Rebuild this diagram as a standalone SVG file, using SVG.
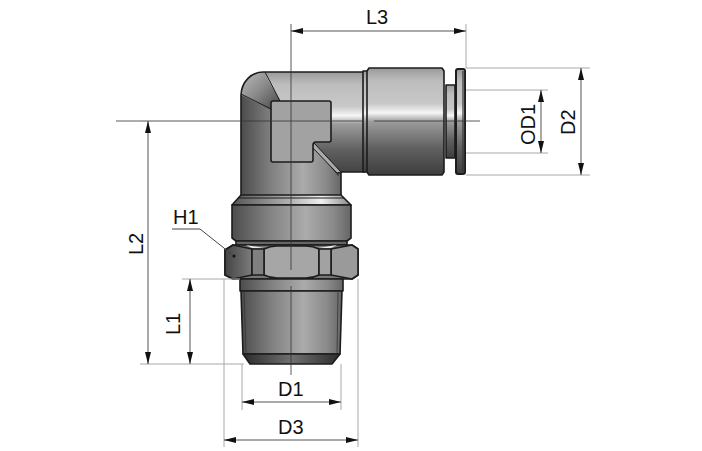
<svg xmlns="http://www.w3.org/2000/svg" width="702" height="451" viewBox="0 0 702 451">
<defs>
<linearGradient id="gh" x1="0" y1="0" x2="0" y2="1"><stop offset="0" stop-color="#9a9a9a"/><stop offset=".12" stop-color="#bdbdbd"/><stop offset=".33" stop-color="#c8c8c8"/><stop offset=".42" stop-color="#f6f6f6"/><stop offset=".5" stop-color="#9c9c9c"/><stop offset=".75" stop-color="#606060"/><stop offset="1" stop-color="#3e3e3e"/></linearGradient>
<linearGradient id="gv" x1="0" y1="0" x2="1" y2="0"><stop offset="0" stop-color="#4c4c4c"/><stop offset=".3" stop-color="#808080"/><stop offset=".62" stop-color="#ababab"/><stop offset=".85" stop-color="#8a8a8a"/><stop offset="1" stop-color="#666"/></linearGradient>
<linearGradient id="gc" x1="0" y1="0" x2="1" y2="1"><stop offset="0" stop-color="#bdbdbd"/><stop offset=".5" stop-color="#888"/><stop offset="1" stop-color="#444"/></linearGradient>
<linearGradient id="gb" x1="0" y1="0" x2="1" y2="0"><stop offset="0" stop-color="#555"/><stop offset=".5" stop-color="#b4b4b4"/><stop offset=".75" stop-color="#f0f0f0"/><stop offset="1" stop-color="#888"/></linearGradient>
<linearGradient id="gl" x1="0" y1="0" x2="1" y2="0"><stop offset="0" stop-color="#444"/><stop offset="1" stop-color="#7c7c7c"/></linearGradient>
<linearGradient id="gd" x1="0" y1="0" x2="1" y2="0"><stop offset="0" stop-color="#2c2c2c"/><stop offset=".5" stop-color="#707070"/><stop offset="1" stop-color="#2c2c2c"/></linearGradient>
<marker id="a" viewBox="0 0 12 6" refX="12" refY="3" markerWidth="12" markerHeight="6" markerUnits="userSpaceOnUse" orient="auto-start-reverse"><path d="M0 0L12 3L0 6Z" fill="#111"/></marker>
</defs>
<style>
.o{stroke:#1c1c1c;stroke-width:1.6;stroke-linejoin:round}
.t{stroke:#1c1c1c;stroke-width:1;fill:none}
.e{stroke:#a8a8a8;stroke-width:1;fill:none}
.c{stroke:#333;stroke-width:.8;fill:none}
.d{stroke:#555;stroke-width:1;fill:none;marker-start:url(#a);marker-end:url(#a)}
text{font-family:"Liberation Sans",Arial,sans-serif;font-size:20px;fill:#111}
</style>
<rect width="702" height="451" fill="#fff"/>
<g id="fitting">
<path fill="url(#gv)" d="M241 96L241 196L341 196L341 172L300 120L265 72A24 24 0 0 0 241 96Z"/>
<path fill="url(#gh)" d="M263 72L364 72L364 172L341 172L338 176L291 120Z"/>
<path d="M263 72A22 24 0 0 0 241 95L271 110L280 100Z" fill="url(#gc)"/>
<path d="M263 72L364 72L364 172L341 172M263 72A22 24 0 0 0 241 95L241 196M341 172L341 196" fill="none" stroke="#1c1c1c" stroke-width="1.6"/>
<path class="t" d="M241 94L271 109M265 72L280 101"/>
<path d="M314 143L341 172L337 173L312 147Z" fill="#ababab" stroke="#1c1c1c" stroke-width="1"/>
<path class="o" fill="#a2a2a2" d="M273 101L329 101Q331 101 331 103L331 140Q331 142 329 142L316 142Q313 142 313 145L313 160Q313 162 311 162L273 162Q271 162 271 160L271 103Q271 101 273 101Z"/>
<rect class="o" x="363" y="71" width="5" height="101" fill="url(#gh)"/>
<path class="o" fill="url(#gh)" d="M369 68L442 68L444 71L444 172L442 175L369 175L367 172L367 71Z"/>
<rect class="o" x="446" y="85" width="9" height="73" fill="url(#gh)"/>
<rect x="456" y="69" width="9" height="105" rx="2" fill="url(#gh)" stroke="#1c1c1c" stroke-width="2"/>
<rect x="462" y="71" width="3" height="101" fill="#333" opacity=".6"/>
<path class="o" fill="url(#gb)" d="M241 195L341 195L351 205L232 205Z"/>
<path class="t" d="M238 198L344 198"/>
<path class="o" fill="url(#gv)" d="M232 205L351 205L351 238L347 241L236 241L232 238Z"/>
<rect class="o" x="236" y="241" width="111" height="4" fill="#666"/>
<path class="o" fill="#777" d="M233 245L352 245L358 249L358 275L352 279L233 279L225 275L225 250Z"/>
<path class="o" fill="url(#gl)" d="M233 245L252 249L252 275L233 279L225 275L225 250Z"/>
<path class="o" fill="#9a9a9a" d="M352 245L331 249L331 275L352 279L358 275L358 249Z"/>
<path d="M246 245L264 248L252 248ZM318 248L337 245L331 248Z" fill="#e8e8e8"/>
<path class="o" fill="#a6a6a6" d="M264 249Q270 246 277 246L306 246Q313 246 319 249L319 275Q313 278 306 278L277 278Q270 278 264 275Z"/>
<rect class="o" x="252" y="249" width="12" height="26" fill="#808080"/>
<rect class="o" x="319" y="249" width="12" height="26" fill="#a2a2a2"/>
<path class="o" fill="url(#gv)" d="M240 279L343 279L343 291L240 291Z"/>
<path class="o" fill="url(#gv)" d="M241 291L342 291L340 354L243 354Z"/>
<path d="M244 291L246 354M338 291L337 354" stroke="#333" stroke-width=".8" fill="none"/>
<path class="o" fill="url(#gd)" d="M243 354L340 354L332 364L250 364Z"/>
</g>
<g id="connectors">
<path class="c" d="M116 121L362 121M374 121L480 121M291 24L291 270M291 286L291 375"/>
<path class="e" d="M291 24L291 70M466 24L466 68M466 68L590 68M466 175L590 175M466 90L548 90M466 153L548 153M140 121L240 121M140 364L244 364M182 279L240 279M242 364L242 410M341 364L341 410M224 279L224 447M358 279L358 447"/>
<path class="d" d="M291 31L466 31"/>
<path class="d" d="M581 68L581 175"/>
<path class="d" d="M541 90L541 153"/>
<path class="d" d="M148 121L148 364"/>
<path class="d" d="M190 279L190 364"/>
<path class="d" d="M242 402L341 402"/>
<path class="d" d="M224 440L358 440"/>
<path d="M172 229L200 229L234 256" fill="none" stroke="#444" stroke-width="1"/>
<circle cx="234" cy="256" r="1.5" fill="#111"/>
</g>
<g id="labels">
<text x="366" y="24">L3</text>
<text x="173" y="224">H1</text>
<text x="278" y="396">D1</text>
<text x="278" y="434">D3</text>
<text transform="translate(143 255) rotate(-90)">L2</text>
<text transform="translate(180 335) rotate(-90)">L1</text>
<text transform="translate(535 145) rotate(-90)">OD1</text>
<text transform="translate(575 135) rotate(-90)">D2</text>
</g>
</svg>
